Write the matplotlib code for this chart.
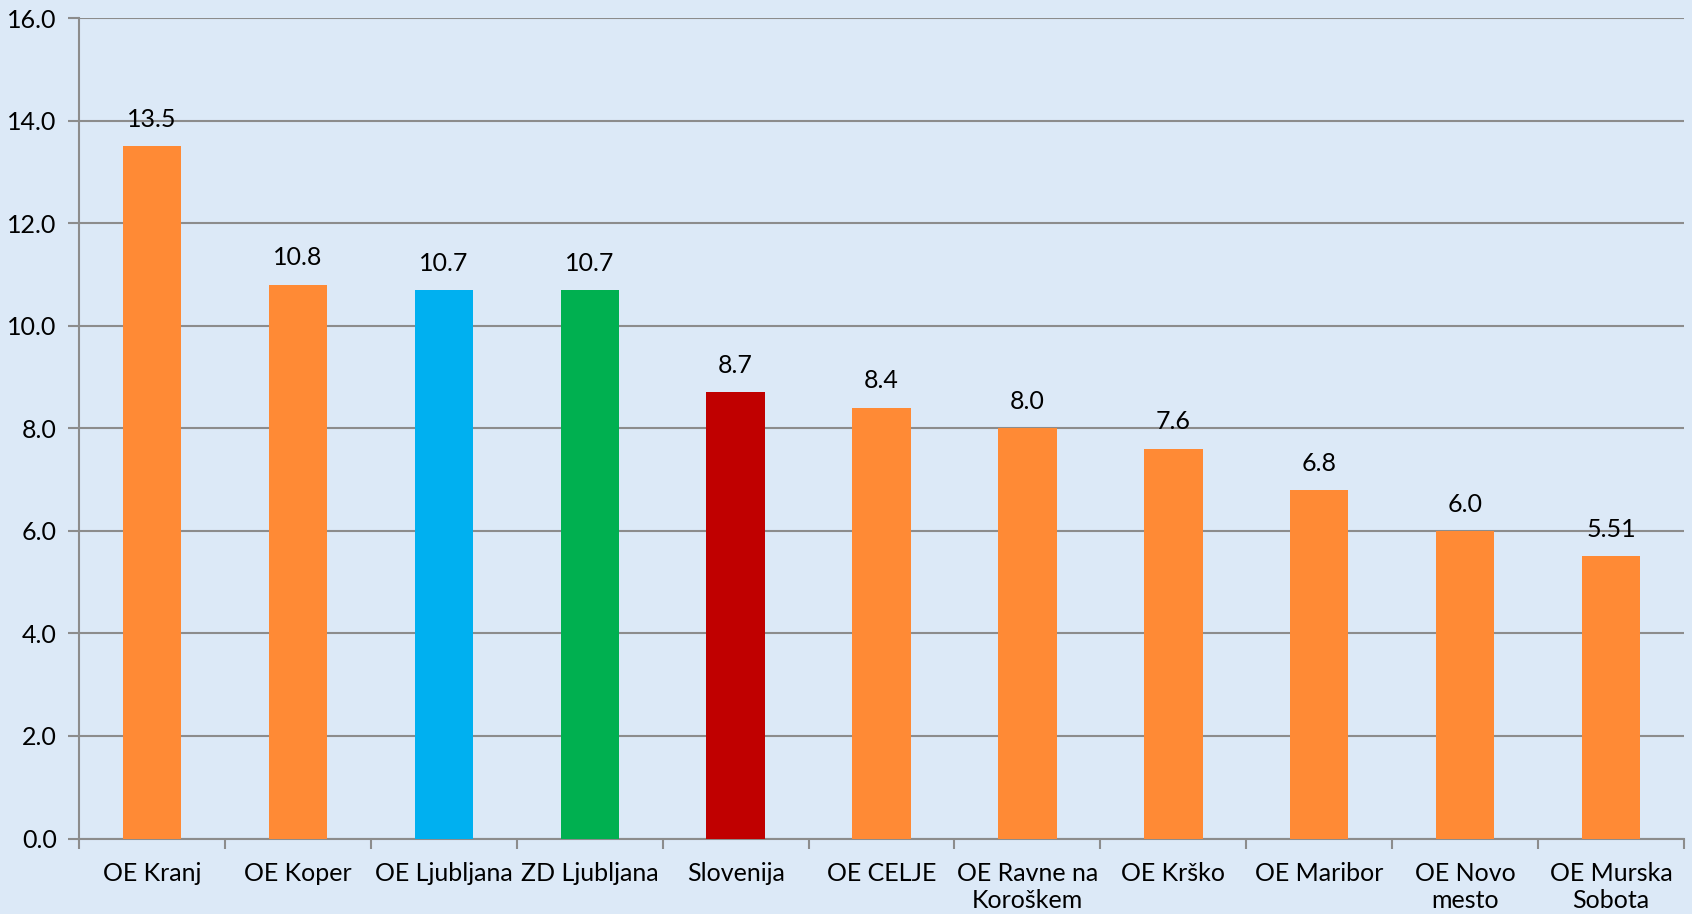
import matplotlib.pyplot as plt
import numpy as np

plt.rcParams['font.family'] = ['Lato', 'DejaVu Sans']

# data
categories = ['OE Kranj', 'OE Koper', 'OE Ljubljana', 'ZD Ljubljana', 'Slovenija',
              'OE CELJE', 'OE Ravne na\nKoroškem', 'OE Krško', 'OE Maribor',
              'OE Novo\nmesto', 'OE Murska\nSobota']
values = [13.5, 10.8, 10.7, 10.7, 8.7, 8.4, 8.0, 7.6, 6.8, 6.0, 5.51]
value_labels = ['13.5', '10.8', '10.7', '10.7', '8.7', '8.4', '8.0', '7.6', '6.8', '6.0', '5.51']
bar_colors = ['#FF8A35', '#FF8A35', '#00B0F0', '#00B050', '#C00000',
              '#FF8A35', '#FF8A35', '#FF8A35', '#FF8A35', '#FF8A35', '#FF8A35']
y_ticks = [0, 2, 4, 6, 8, 10, 12, 14, 16]

bg = '#dce9f7'
fig = plt.figure(figsize=(16.92, 9.14), dpi=100, facecolor=bg)
ax = fig.add_axes([0.0467, 0.0826, 0.9486, 0.8977], facecolor=bg)

x = np.arange(len(categories))
bars = ax.bar(x, values, width=0.40, color=bar_colors, zorder=3)

for b, lab in zip(bars, value_labels):
    ax.annotate(lab, (b.get_x() + b.get_width() / 2, b.get_height()),
                xytext=(0, 11), textcoords='offset points',
                ha='center', va='bottom', fontsize=18, color='black', zorder=4)

ax.set_xlim(-0.5, len(categories) - 0.5)
ax.set_ylim(0, 16)
ax.set_yticks(y_ticks)
ax.set_yticklabels(['%.1f' % t for t in y_ticks], fontsize=18)
ax.yaxis.grid(True, color='#8c8c8c', linewidth=1.5, zorder=0)
ax.set_axisbelow(True)

# category labels centred, ticks at boundaries
ax.set_xticks(x)
ax.set_xticklabels(categories, fontsize=18, linespacing=1.2, va='top')
ax.tick_params(axis='x', length=0, pad=17)
ax.set_xticks(np.arange(len(categories) + 1) - 0.5, minor=True)
ax.tick_params(axis='x', which='minor', length=7, width=1.5, color='#8c8c8c', direction='out')
ax.tick_params(axis='y', length=8, width=1.5, color='#8c8c8c', pad=8)

for s in ['top', 'right']:
    ax.spines[s].set_visible(False)
for s in ['left', 'bottom']:
    ax.spines[s].set_color('#8c8c8c')
    ax.spines[s].set_linewidth(1.5)

fig.savefig('out.png', dpi=100, facecolor=bg)
